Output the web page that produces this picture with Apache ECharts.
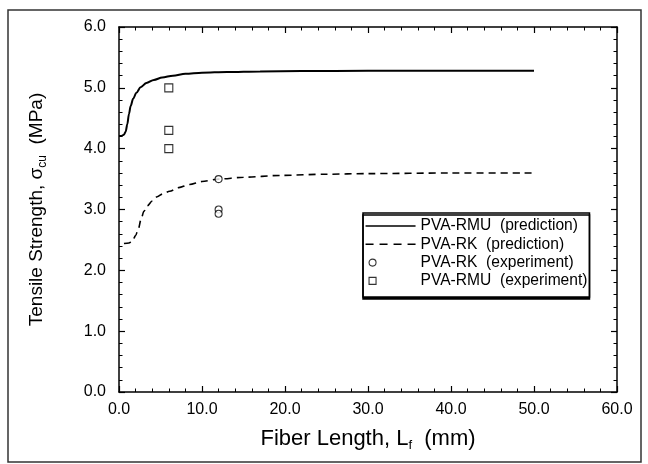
<!DOCTYPE html>
<html>
<head>
<meta charset="utf-8">
<script src="https://cdn.jsdelivr.net/npm/echarts@6/dist/echarts.min.js"></script>
<style>
  html, body { margin: 0; padding: 0; background: #fff; }
  #chart { width: 648px; height: 464px; }
</style>
</head>
<body>
<div id="chart"></div>
<script>
// fiber length (mm) / tensile strength (MPa)
const rmuPredL = [0, 0.3, 0.6, 0.8, 1.0, 1.2, 1.4, 1.7, 2.1, 2.6, 3.3, 4.2, 5.2, 6.5, 8, 10, 13, 17, 22, 30, 40, 50];
const rmuPredS = [4.21, 4.21, 4.23, 4.28, 4.40, 4.57, 4.70, 4.82, 4.92, 5.01, 5.08, 5.13, 5.17, 5.20, 5.23, 5.25, 5.26, 5.27, 5.275, 5.28, 5.28, 5.28];

const rkPredL = [0.6, 1.2, 1.6, 2.0, 2.3, 2.7, 3.0, 3.4, 4.0, 4.6, 5.3, 6.1, 7.2, 8.5, 10, 12, 15, 19.4, 25, 30, 40, 50];
const rkPredS = [2.44, 2.45, 2.48, 2.57, 2.67, 2.86, 2.97, 3.06, 3.14, 3.21, 3.26, 3.30, 3.36, 3.41, 3.46, 3.50, 3.53, 3.56, 3.58, 3.59, 3.60, 3.60];

const rkExpL = [12, 12, 12];
const rkExpS = [3.5, 3.0, 2.93];

const rmuExpL = [6, 6, 6];
const rmuExpS = [5.0, 4.3, 4.0];

const names = [
  'PVA-RMU  (prediction)',
  'PVA-RK  (prediction)',
  'PVA-RK  (experiment)',
  'PVA-RMU  (experiment)'
];

function pairs(xs, ys) {
  return xs.map((x, i) => [x, ys[i]]);
}

const font = "'Liberation Sans', Arial, sans-serif";
let myChart = echarts.init(document.getElementById('chart'), null, { renderer: 'canvas' });

const axisCommon = {
  axisLine: { show: true, onZero: false, lineStyle: { color: '#000', width: 1.5 } },
  axisTick: { show: true, inside: true, length: 6, lineStyle: { color: '#000', width: 1.2 } },
  minorTick: { show: true, splitNumber: 5, length: 3.5, lineStyle: { color: '#000', width: 1 } },
  splitLine: { show: false },
  minorSplitLine: { show: false }
};

// legend icons drawn in a 50x10 box
const solidIcon = 'path://M0 0M50 10M0 4.2L50 4.2L50 5.8L0 5.8Z';
const dashIcon = 'path://M0 0M50 10M0 4.3L8 4.3L8 5.7L0 5.7ZM14 4.3L22 4.3L22 5.7L14 5.7ZM28 4.3L36 4.3L36 5.7L28 5.7ZM42 4.3L50 4.3L50 5.7L42 5.7Z';
const circleIcon = 'path://M0 0M50 10M10.5 5A3.5 3.5 0 1 1 3.5 5A3.5 3.5 0 1 1 10.5 5Z';
const squareIcon = 'path://M0 0M50 10M3.5 1.5L10.5 1.5L10.5 8.5L3.5 8.5Z';

let option = {
  animation: false,
  backgroundColor: '#fff',
  textStyle: { fontFamily: font, color: '#000' },
  graphic: [{
    type: 'rect',
    shape: { x: 8, y: 10, width: 633, height: 452 },
    style: { fill: 'none', stroke: '#333', lineWidth: 1.5 },
    silent: true
  }],
  grid: { left: 119, right: 31, top: 27, bottom: 72, containLabel: false },
  legend: {
    orient: 'vertical',
    left: 363,
    top: 213,
    padding: [4, 2, 7, 2],
    itemGap: 0.3,
    itemWidth: 50,
    itemHeight: 10,
    backgroundColor: '#fff',
    borderColor: '#000',
    borderWidth: 1.5,
    shadowColor: '#000',
    shadowBlur: 0,
    shadowOffsetX: 0,
    shadowOffsetY: 2,
    textStyle: { fontFamily: font, fontSize: 15.6, color: '#000', lineHeight: 18 },
    data: [
      { name: names[0], icon: solidIcon, itemStyle: { color: '#000', borderWidth: 0 } },
      { name: names[1], icon: dashIcon, itemStyle: { color: '#000', borderWidth: 0 } },
      { name: names[2], icon: circleIcon, itemStyle: { color: '#fff', borderColor: '#000', borderWidth: 1.1 } },
      { name: names[3], icon: squareIcon, itemStyle: { color: '#fff', borderColor: '#000', borderWidth: 1.1 } }
    ]
  },
  xAxis: [
    Object.assign({}, axisCommon, {
      type: 'value', position: 'bottom', min: 0, max: 60, interval: 10,
      axisLabel: {
        fontFamily: font, fontSize: 16, color: '#000', margin: 10,
        formatter: v => v.toFixed(1)
      },
      name: '{a|Fiber Length, L}{s|f}{a|  (mm)}',
      nameLocation: 'middle',
      nameGap: 34,
      nameTextStyle: {
        rich: {
          a: { fontFamily: font, fontSize: 22, color: '#000', lineHeight: 26 },
          s: { fontFamily: font, fontSize: 13, color: '#000', lineHeight: 14, verticalAlign: 'bottom' }
        }
      }
    }),
    Object.assign({}, axisCommon, {
      type: 'value', position: 'top', min: 0, max: 60, interval: 10,
      axisLabel: { show: false }
    })
  ],
  yAxis: [
    Object.assign({}, axisCommon, {
      type: 'value', position: 'left', min: 0, max: 6, interval: 1,
      axisLabel: {
        fontFamily: font, fontSize: 16, color: '#000', margin: 13,
        formatter: v => v.toFixed(1)
      },
      name: '{a|Tensile Strength, σ}{s|cu}{a|  (MPa)}',
      nameLocation: 'middle',
      nameGap: 70,
      nameRotate: 90,
      nameTextStyle: {
        rich: {
          a: { fontFamily: font, fontSize: 19, color: '#000', lineHeight: 24 },
          s: { fontFamily: font, fontSize: 12, color: '#000', lineHeight: 13, verticalAlign: 'bottom' }
        }
      }
    }),
    Object.assign({}, axisCommon, {
      type: 'value', position: 'right', min: 0, max: 6, interval: 1,
      axisLabel: { show: false }
    })
  ],
  series: [
    {
      name: names[0],
      type: 'line',
      xAxisIndex: 0, yAxisIndex: 0,
      data: pairs(rmuPredL, rmuPredS),
      smooth: 0.3,
      smoothMonotone: 'x',
      symbol: 'none',
      lineStyle: { color: '#000', width: 2 },
      itemStyle: { color: '#000' },
      z: 3
    },
    {
      name: names[1],
      type: 'line',
      xAxisIndex: 0, yAxisIndex: 0,
      data: pairs(rkPredL, rkPredS),
      smooth: 0.3,
      smoothMonotone: 'x',
      symbol: 'none',
      lineStyle: { color: '#000', width: 1.6, type: [7, 5] },
      itemStyle: { color: '#000' },
      z: 3
    },
    {
      name: names[2],
      type: 'scatter',
      xAxisIndex: 0, yAxisIndex: 0,
      data: pairs(rkExpL, rkExpS),
      symbol: 'circle',
      symbolSize: 7,
      itemStyle: { color: '#fff', borderColor: '#000', borderWidth: 1.1 },
      z: 4
    },
    {
      name: names[3],
      type: 'scatter',
      xAxisIndex: 0, yAxisIndex: 0,
      data: pairs(rmuExpL, rmuExpS),
      symbol: 'rect',
      symbolSize: 8,
      itemStyle: { color: '#fff', borderColor: '#000', borderWidth: 1.1 },
      z: 4
    }
  ]
};

myChart.setOption(option, true);
</script>
</body>
</html>
